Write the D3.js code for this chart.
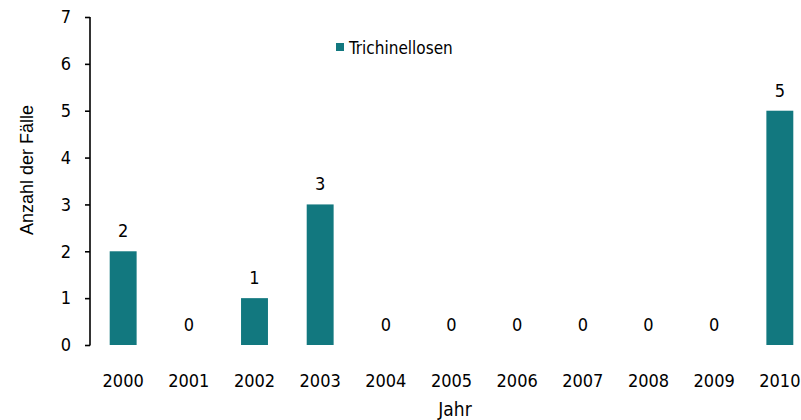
<!DOCTYPE html>
<html>
<head>
<meta charset="utf-8">
<script src="https://cdn.jsdelivr.net/npm/d3@7"></script>
<style>
  body { margin: 0; background: #fff; }
  svg text { font-family: "DejaVu Sans Condensed", "DejaVu Sans", sans-serif; fill: #000; }
</style>
</head>
<body>
<svg id="chart" width="801" height="420"></svg>
<script>
// Data
var years = ['2000', '2001', '2002', '2003', '2004', '2005', '2006', '2007', '2008', '2009', '2010'];
var cases = [2, 0, 1, 3, 0, 0, 0, 0, 0, 0, 5];
var yTicks = [0, 1, 2, 3, 4, 5, 6, 7];
var seriesName = 'Trichinellosen';

var margin = {top: 17, right: 0, bottom: 75, left: 90};
var barColor = '#12787f';

var svg = d3.select('#chart');
var height = 420 - margin.top - margin.bottom;

var g = svg.append('g')
  .attr('transform', 'translate(' + margin.left + ',' + margin.top + ')');

var x = d3.scaleBand()
  .domain(years)
  .range([0, 723])
  .paddingInner(0.59)
  .paddingOuter(0.3);

var y = d3.scaleLinear()
  .domain([0, 7])
  .range([height, 0]);

// Y axis
var yAxis = g.append('g')
  .call(d3.axisLeft(y).tickValues(yTicks).tickSize(5).tickPadding(14).tickFormat(d3.format('d')));
yAxis.select('.domain').attr('stroke', '#000').attr('stroke-width', 1.6).attr('d', 'M0,' + (height + 0.5) + 'V0');
yAxis.selectAll('.tick line').attr('stroke', '#000').attr('stroke-width', 1.6);
yAxis.selectAll('.tick text').style('font-size', '18px');

// X axis labels (no line)
g.selectAll('.xlab')
  .data(years)
  .enter().append('text')
  .attr('class', 'xlab')
  .attr('x', function(d) { return x(d) + x.bandwidth() / 2; })
  .attr('y', height + 42)
  .attr('text-anchor', 'middle')
  .style('font-size', '18px')
  .text(function(d) { return d; });

// Bars
g.selectAll('.bar')
  .data(cases)
  .enter().append('rect')
  .attr('class', 'bar')
  .attr('x', function(d, i) { return x(years[i]); })
  .attr('y', function(d) { return y(d); })
  .attr('width', x.bandwidth())
  .attr('height', function(d) { return height - y(d); })
  .attr('fill', barColor);

// Value labels
g.selectAll('.val')
  .data(cases)
  .enter().append('text')
  .attr('class', 'val')
  .attr('x', function(d, i) { return x(years[i]) + x.bandwidth() / 2; })
  .attr('y', function(d) { return y(d) - 14; })
  .attr('text-anchor', 'middle')
  .style('font-size', '18px')
  .text(function(d) { return d; });

// Axis titles
svg.append('text')
  .attr('transform', 'translate(33,170) rotate(-90)')
  .attr('text-anchor', 'middle')
  .style('font-family', '"Liberation Sans", Arial, sans-serif')
  .style('font-size', '18px')
  .text('Anzahl der Fälle');

svg.append('text')
  .attr('x', 455)
  .attr('y', 416)
  .attr('text-anchor', 'middle')
  .style('font-size', '19px')
  .text('Jahr');

// Legend
var legend = svg.append('g').attr('transform', 'translate(336,43)');
legend.append('rect')
  .attr('width', 8)
  .attr('height', 8)
  .attr('fill', barColor);
legend.append('text')
  .attr('x', 13)
  .attr('y', 11)
  .style('font-size', '17px')
  .text(seriesName);
</script>
</body>
</html>
